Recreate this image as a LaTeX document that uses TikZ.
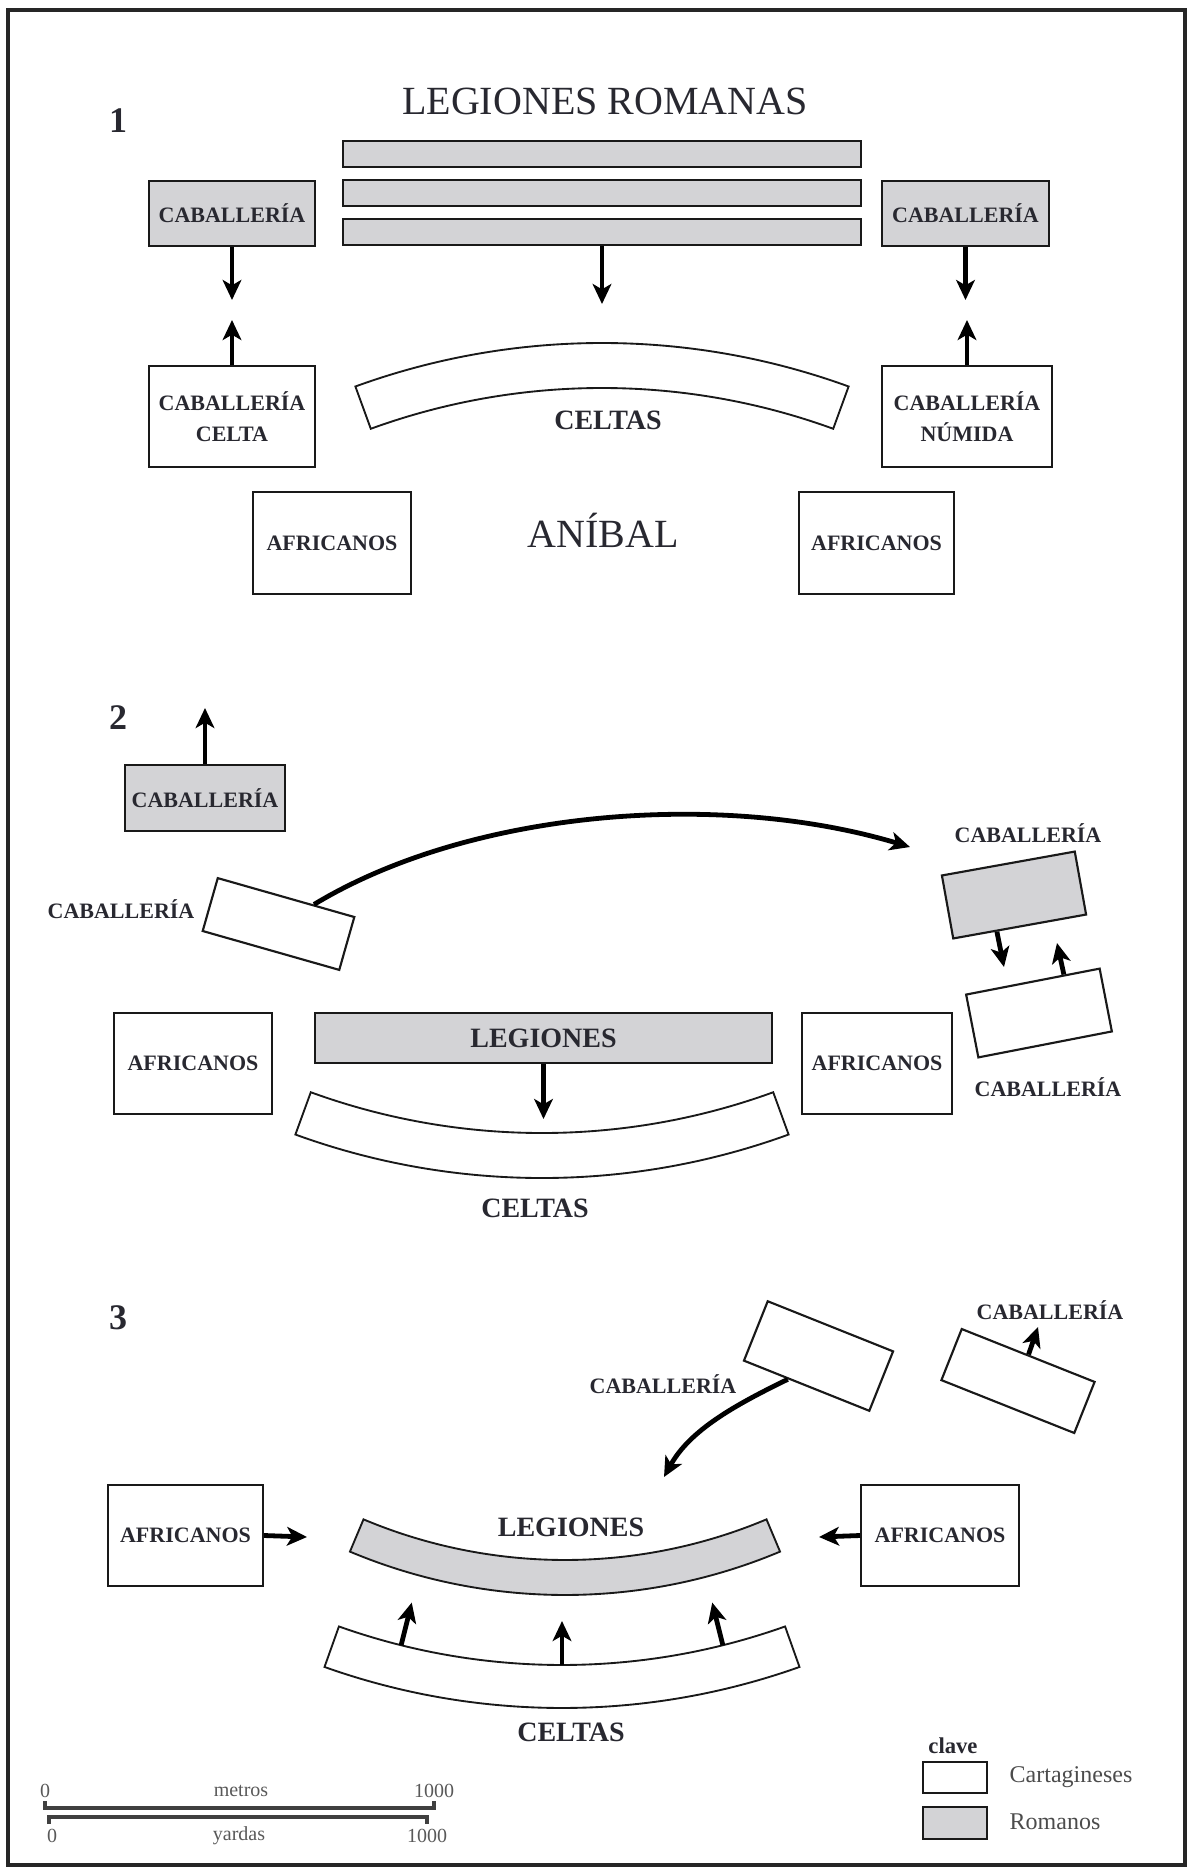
\documentclass[tikz,border=0pt]{standalone}
\usepackage{fontspec}
\setmainfont{Liberation Serif}
\usetikzlibrary{arrows.meta,calc}
\definecolor{romgray}{RGB}{211,211,214}
\definecolor{inkgray}{RGB}{40,40,48}

\begin{document}
\begin{tikzpicture}[x=0.75pt,y=0.75pt,yscale=-1,xscale=1,
  carta/.style={draw=black!90,line width=1.6pt,fill=white,inner sep=0pt},
  roma/.style={carta,fill=romgray},
  lbl/.style={text=inkgray,font=\bfseries\fontsize{16.5}{23}\selectfont,align=center},
  big/.style={text=inkgray,font=\bfseries\fontsize{21}{24}\selectfont},
  title/.style={text=inkgray,font=\fontsize{30}{34}\selectfont},
  num/.style={text=inkgray,font=\bfseries\fontsize{27}{30}\selectfont},
  small/.style={text=black!65,font=\fontsize{15}{17}\selectfont},
  mv/.style={line width=3.6pt,-{Stealth[length=15pt,width=14pt,inset=4pt]}},
]
\useasboundingbox (0,0) rectangle (1190,1867);
% Frame
\draw[line width=2.5pt,black!85] (8,10) rectangle (1185,1865);

% ---------------- 1 ----------------
% Text Node
\node[num] (num1) at (118,121) {1};
% Text Node
\node[title] (legrom) at (605,101) {LEGIONES ROMANAS};
% Legions
\node[roma,minimum width=388.5pt,minimum height=19pt] (bar1) at (602,154) {};
\node[roma,minimum width=388.5pt,minimum height=19pt] (bar2) at (602,193) {};
\node[roma,minimum width=388.5pt,minimum height=19pt] (bar3) at (602,232) {};
% Text Node
\node[roma,lbl,minimum width=124.5pt,minimum height=48.75pt] (cavL) at (232,213.5) {CABALLERÍA};
% Text Node
\node[roma,lbl,minimum width=125.25pt,minimum height=48.75pt] (cavR) at (965.5,213.5) {CABALLERÍA};
% Text Node
\node[carta,lbl,minimum width=124.5pt,minimum height=75.75pt] (celta) at (232,416.5) {CABALLERÍA\\CELTA};
% Text Node
\node[carta,lbl,minimum width=127.5pt,minimum height=75.75pt] (numida) at (967,416.5) {CABALLERÍA\\NÚMIDA};
% Celts
\coordinate (c1) at (602,1064);
\draw[carta,line width=1.4pt] ([shift={(250:721)}]c1) arc[start angle=250,end angle=290,radius=721]
  -- ([shift={(290:676)}]c1) arc[start angle=290,end angle=250,radius=676] -- cycle;
\node[big] (celtas1) at (608,420) {CELTAS};
% Text Node
\node[carta,lbl,minimum width=118.5pt,minimum height=76.5pt] (afL1) at (332,543) {AFRICANOS};
% Text Node
\node[carta,lbl,minimum width=116.25pt,minimum height=76.5pt] (afR1) at (876.5,543) {AFRICANOS};
% Text Node
\node[title] (anibal) at (603,530) {ANÍBAL};
% Connection
\coordinate (tL) at (232,300);
\coordinate (tC) at (602,304);
\coordinate (tR) at (965.5,300);
\coordinate (uL) at (232,320);
\coordinate (uR) at (967,320);
\draw[mv] (cavL.south) -- (tL);
\draw[mv] (bar3.south) -- (tC);
\draw[mv] (cavR.south) -- (tR);
\draw[mv] (celta.north) -- (uL);
\draw[mv] (numida.north) -- (uR);

% ---------------- 2 ----------------
% Text Node
\node[num] (num2) at (118,718) {2};
% Text Node
\node[roma,lbl,minimum width=120pt,minimum height=49.5pt] (cav2) at (205,798) {CABALLERÍA};
\coordinate (t2) at (205,708);
\draw[mv] (cav2.north) -- (t2);
% Text Node
\node[carta,rotate=-15.9,minimum width=106.5pt,minimum height=41.25pt] (cavA) at (278.5,924) {};
\node[lbl] (cavAl) at (121,909) {CABALLERÍA};
% Text Node
\node[roma,rotate=10.2,minimum width=101.25pt,minimum height=48pt] (cavB) at (1014,895) {};
\node[lbl] (cavBl) at (1028,833) {CABALLERÍA};
% Text Node
\node[carta,rotate=11,minimum width=102pt,minimum height=48pt] (cavC) at (1039,1013) {};
\node[lbl] (cavCl) at (1048,1087) {CABALLERÍA};
% Connection
\coordinate (sA) at ($(cavA.north)!0.4!(cavA.north east)$);
\coordinate (eA) at (910,847);
\draw[mv] (sA) .. controls (470,810) and (720,790) .. (eA);
% Connection
\coordinate (sB) at ($(cavB.south)!0.34!(cavB.south west)$);
\coordinate (eB) at (1004,967);
\draw[mv] (sB) -- (eB);
\coordinate (sC) at ($(cavC.north)!0.46!(cavC.north east)$);
\coordinate (eC) at (1057,943);
\draw[mv] (sC) -- (eC);
% Text Node
\node[carta,lbl,minimum width=118.5pt,minimum height=75.75pt] (afL2) at (193,1063.5) {AFRICANOS};
% Text Node
\node[roma,big,minimum width=342.75pt,minimum height=37.5pt] (leg2) at (543.5,1038) {LEGIONES};
% Text Node
\node[carta,lbl,minimum width=112.5pt,minimum height=75.75pt] (afR2) at (877,1063.5) {AFRICANOS};
% Celts
\coordinate (c2) at (542,457);
\draw[carta,line width=1.4pt] ([shift={(70:676)}]c2) arc[start angle=70,end angle=110,radius=676]
  -- ([shift={(110:721)}]c2) arc[start angle=110,end angle=70,radius=721] -- cycle;
\node[big] (celtas2) at (535,1208) {CELTAS};
% Connection
\coordinate (t3) at (543.5,1119);
\draw[mv] (leg2.south) -- (t3);

% ---------------- 3 ----------------
% Text Node
\node[num] (num3) at (118,1318) {3};
% Text Node
\node[carta,rotate=-21.8,minimum width=101.25pt,minimum height=48pt] (cavD) at (818.5,1356) {};
\node[lbl] (cavDl) at (663,1384) {CABALLERÍA};
% Text Node
\node[carta,rotate=-21.7,minimum width=107.25pt,minimum height=41.25pt] (cavE) at (1018,1381) {};
\node[lbl] (cavEl) at (1050,1310) {CABALLERÍA};
% Connection
\coordinate (sD) at ($(cavD.south)!0.29!(cavD.south west)$);
\coordinate (eD) at (664,1477);
\draw[mv] (sD) .. controls (735,1405) and (690,1430) .. (eD);
\coordinate (eE) at (1038,1327);
\draw[mv] (cavE.north) -- (eE);
% Text Node
\node[carta,lbl,minimum width=116.25pt,minimum height=75.75pt] (afL3) at (185.5,1535.5) {AFRICANOS};
% Text Node
\node[carta,lbl,minimum width=118.5pt,minimum height=75.75pt] (afR3) at (940,1535.5) {AFRICANOS};
% Legions
\coordinate (c3) at (565,1040);
\draw[roma,line width=1.4pt] ([shift={(67.2:520)}]c3) arc[start angle=67.2,end angle=112.8,radius=520]
  -- ([shift={(112.8:555)}]c3) arc[start angle=112.8,end angle=67.2,radius=555] -- cycle;
\node[big] (leg3) at (571,1527) {LEGIONES};
% Celts
\coordinate (c4) at (562,1000);
\draw[carta,line width=1.4pt] ([shift={(70.4:665)}]c4) arc[start angle=70.4,end angle=109.6,radius=665]
  -- ([shift={(109.6:708)}]c4) arc[start angle=109.6,end angle=70.4,radius=708] -- cycle;
\node[big] (celtas3) at (571,1732) {CELTAS};
% Connection
\coordinate (eL3) at (307,1537);
\coordinate (eR3) at (819,1537);
\draw[mv] (afL3.east) -- (eL3);
\draw[mv] (afR3.west) -- (eR3);
\foreach \a in {104,90,76}
  \draw[mv] ([shift={(\a:665)}]c4) -- ([shift={(\a:621)}]c4);

% Key
\node[text=inkgray,font=\bfseries\fontsize{17}{19}\selectfont] (clave) at (953,1746) {clave};
\node[carta,minimum width=48pt,minimum height=23.25pt] (keyC) at (955,1777.5) {};
\node[roma,minimum width=48pt,minimum height=24pt] (keyR) at (955,1823) {};
\node[text=black!70,font=\fontsize{18}{20}\selectfont,anchor=west] (keyCl) at (1005,1777) {Cartagineses};
\node[text=black!70,font=\fontsize{18}{20}\selectfont,anchor=west] (keyRl) at (1005,1822) {Romanos};

% Scale
\draw[line width=2.4pt,black!75] (45,1801) -- (45,1808) -- (434,1808) -- (434,1801);
\draw[line width=2.4pt,black!75] (49,1824) -- (49,1817) -- (427,1817) -- (427,1824);
\node[small] (m0) at (45,1791) {0};
\node[small] (mt) at (241,1791) {metros};
\node[small] (m1) at (434,1791) {1000};
\node[small] (y0) at (52,1836) {0};
\node[small] (yd) at (239,1836) {yardas};
\node[small] (y1) at (427,1836) {1000};

\end{tikzpicture}
\end{document}
